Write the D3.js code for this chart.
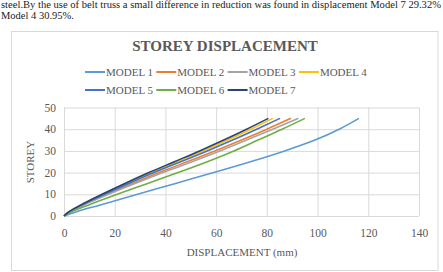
<!DOCTYPE html>
<html>
<head>
<meta charset="utf-8">
<script src="https://cdn.jsdelivr.net/npm/d3@7"></script>
<style>
    body { margin: 0; background: #fff; }
    text { font-family: "Liberation Serif", "DejaVu Serif", serif; }
</style>
</head>
<body>
<svg id="drawing_region"></svg>
<script>
// storeys at which displacement was read
var storeys = [0, 2, 5, 10, 15, 20, 25, 30, 35, 40, 45];

var model1 = [0, 5, 14, 29, 44, 59, 73.5, 87, 99, 108.5, 116.3];
var model2 = [0, 2.2, 7.3, 17, 27, 37.5, 48.5, 59.5, 70, 80, 89.5];
var model3 = [0, 2.3, 7.6, 17.5, 28, 39, 50.5, 61.5, 72, 82.3, 92.4];
var model4 = [0, 2, 6.7, 15.5, 24.7, 34.4, 44.6, 54.8, 64.5, 73.7, 82.3];
var model5 = [0, 2.1, 7, 16, 25.5, 35.5, 46, 56.5, 66.5, 76, 85.2];
var model6 = [0, 3, 9.5, 21, 33, 45, 56.5, 67, 76.5, 86, 95];
var model7 = [0, 2, 6.5, 15, 24, 33.5, 43.5, 53.5, 63, 72, 80.6];

var seriesNames = ['MODEL 1', 'MODEL 2', 'MODEL 3', 'MODEL 4', 'MODEL 5', 'MODEL 6', 'MODEL 7'];
var seriesValues = [model1, model2, model3, model4, model5, model6, model7];
var seriesColors = ['#5b9bd5', '#ed7d31', '#a5a5a5', '#ffc000', '#4472c4', '#70ad47', '#264478'];

var xTicks = [0, 20, 40, 60, 80, 100, 120, 140];
var yTicks = [0, 10, 20, 30, 40, 50];

var width = 443;
var height = 272;
var margin = {top: 107.5, right: 24, bottom: 56, left: 64};

var svg = d3.select('#drawing_region')
    .attr('width', width)
    .attr('height', height);

// text from the page above the chart
svg.append('text')
    .attr('x', 1).attr('y', 8)
    .attr('font-size', 10.5)
    .attr('fill', '#222')
    .attr('textLength', 440)
    .attr('lengthAdjust', 'spacingAndGlyphs')
    .text('steel.By the use of belt truss a small difference in reduction was found in displacement Model 7 29.32%');
svg.append('text')
    .attr('x', 1).attr('y', 19)
    .attr('font-size', 10.5)
    .attr('fill', '#222')
    .text('Model 4 30.95%.');

// chart frame
svg.append('rect')
    .attr('x', 11.5).attr('y', 31.5)
    .attr('width', 426.5).attr('height', 239)
    .attr('fill', '#fff')
    .attr('stroke', '#d9d9d9');

svg.append('text')
    .attr('x', 225).attr('y', 51)
    .attr('text-anchor', 'middle')
    .attr('font-size', 15)
    .attr('font-weight', 'bold')
    .attr('fill', '#595959')
    .text('STOREY DISPLACEMENT');

var inner_width = width - margin.left - margin.right;
var inner_height = height - margin.top - margin.bottom;

var xscale = d3.scaleLinear().domain([0, 140]).range([0, 355]);
var yscale = d3.scaleLinear().domain([0, 50]).range([inner_height, 0]);

var chart = svg.append('g')
    .attr('transform', `translate(${margin.left}, ${margin.top})`);

// gridlines
chart.append('g')
    .call(d3.axisLeft(yscale).tickValues(yTicks).tickSize(-355).tickFormat(''))
    .call(g => g.select('.domain').remove())
    .selectAll('line').attr('stroke', '#d9d9d9');
chart.append('g')
    .attr('transform', `translate(0, ${inner_height})`)
    .call(d3.axisBottom(xscale).tickValues(xTicks).tickSize(-inner_height).tickFormat(''))
    .call(g => g.select('.domain').remove())
    .selectAll('line').attr('stroke', '#d9d9d9');

// tick labels
var xaxis = chart.append('g')
    .attr('transform', `translate(0, ${inner_height})`)
    .call(d3.axisBottom(xscale).tickValues(xTicks).tickSize(0).tickPadding(13));
xaxis.select('.domain').remove();
xaxis.selectAll('text')
    .attr('font-family', 'Liberation Serif')
    .attr('font-size', 11.5).attr('fill', '#595959');

var yaxis = chart.append('g')
    .call(d3.axisLeft(yscale).tickValues(yTicks).tickSize(0).tickPadding(8));
yaxis.select('.domain').remove();
yaxis.selectAll('text')
    .attr('font-family', 'Liberation Serif')
    .attr('font-size', 11.5).attr('fill', '#595959');

svg.append('text')
    .attr('x', 242).attr('y', 256)
    .attr('text-anchor', 'middle')
    .attr('font-size', 11)
    .attr('fill', '#595959')
    .text('DISPLACEMENT (mm)');

svg.append('text')
    .attr('transform', 'translate(34, 162) rotate(-90)')
    .attr('text-anchor', 'middle')
    .attr('font-size', 11)
    .attr('fill', '#595959')
    .text('STOREY');

// series lines
var line = d3.line()
    .x(d => xscale(d.disp))
    .y(d => yscale(d.storey))
    .curve(d3.curveMonotoneY);

seriesValues.forEach(function (vals, i) {
    var pts = storeys.map((s, j) => ({storey: s, disp: vals[j]}));
    chart.append('path')
        .datum(pts)
        .attr('fill', 'none')
        .attr('stroke', seriesColors[i])
        .attr('stroke-width', 1.6)
        .attr('d', line);
});

// legend
var legend = svg.append('g');
seriesNames.forEach(function (name, i) {
    var row = i < 4 ? 0 : 1;
    var col = i < 4 ? i : i - 4;
    var x = 85 + col * 71.3;
    var y = row === 0 ? 72 : 90;
    legend.append('line')
        .attr('x1', x).attr('x2', x + 20)
        .attr('y1', y).attr('y2', y)
        .attr('stroke', seriesColors[i])
        .attr('stroke-width', 2);
    legend.append('text')
        .attr('x', x + 21).attr('y', y + 4)
        .attr('font-size', 11)
        .attr('fill', '#595959')
        .text(name);
});
</script>
</body>
</html>
